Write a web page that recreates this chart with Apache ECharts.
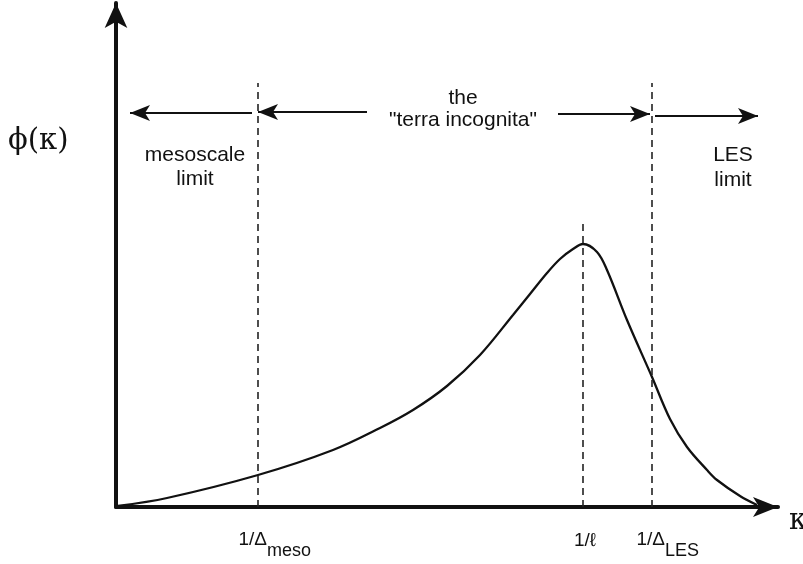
<!DOCTYPE html>
<html>
<head>
<meta charset="utf-8">
<script src="https://cdn.jsdelivr.net/npm/echarts@6/dist/echarts.min.js"></script>
<style>
  html, body { margin: 0; padding: 0; background: #fff; }
  #chart { width: 803px; height: 564px; }
</style>
</head>
<body>
<div id="chart"></div>
<script>
// spectrum curve phi(kappa), arbitrary units (x: 0..662, y: 0..504)
var curveX = [2, 51, 142, 217, 264, 297, 331, 364, 397, 414, 431, 444, 457, 467, 481, 491, 511, 536, 554, 571, 591, 601, 624, 641];
var curveY = [1, 9, 32, 57, 79, 97, 121, 152, 192, 213, 234, 248, 258, 263, 255, 237, 187, 130, 88, 60, 37, 27, 11, 2];

// vertical dashed markers: 1/Δmeso, 1/ℓ, 1/ΔLES
var markerX = [142, 467, 536];
var markerTop = [424, 284, 424];

// horizontal arrows at the top: [from, to (tip), y]
var arrowFrom = [136, 251, 442, 539];
var arrowTo = [14, 142, 534, 642];
var arrowY = [394, 395, 393, 391];

var curveData = curveX.map(function (x, i) { return [x, curveY[i]]; });

var markLines = [];
markerX.forEach(function (x, i) {
  markLines.push([
    { coord: [x, 0], symbol: 'none', lineStyle: { type: [7, 5], width: 1.6, color: '#222' } },
    { coord: [x, markerTop[i]], symbol: 'none' }
  ]);
});
arrowFrom.forEach(function (x, i) {
  markLines.push([
    { coord: [x, arrowY[i]], symbol: 'none', lineStyle: { type: 'solid', width: 2, color: '#111' } },
    { coord: [arrowTo[i], arrowY[i]], symbol: 'arrow', symbolSize: [12, 20] }
  ]);
});

var chart = echarts.init(document.getElementById('chart'));
var sans = '"Liberation Sans", Arial, sans-serif';
var serif = '"DejaVu Serif", "Liberation Serif", serif';

function txt(text, x, y, size, align, font) {
  return {
    type: 'text',
    x: x,
    y: y,
    style: {
      text: text,
      font: size + 'px ' + (font || sans),
      fill: '#111',
      textAlign: align || 'center',
      textVerticalAlign: 'middle'
    }
  };
}

var option = {
  animation: false,
  backgroundColor: '#fff',
  grid: { left: 116, right: 25, top: 3, bottom: 57 },
  xAxis: {
    type: 'value',
    min: 0,
    max: 662,
    axisLine: {
      lineStyle: { color: '#111', width: 4 },
      symbol: ['none', 'arrow'],
      symbolSize: [15, 25]
    },
    axisTick: { show: false },
    axisLabel: { show: false },
    splitLine: { show: false }
  },
  yAxis: {
    type: 'value',
    min: 0,
    max: 504,
    axisLine: {
      show: true,
      lineStyle: { color: '#111', width: 4 },
      symbol: ['none', 'arrow'],
      symbolSize: [17, 25]
    },
    axisTick: { show: false },
    axisLabel: { show: false },
    splitLine: { show: false }
  },
  series: [
    {
      type: 'line',
      data: curveData,
      smooth: 0.35,
      showSymbol: false,
      lineStyle: { color: '#111', width: 2.3 },
      markLine: {
        silent: true,
        symbol: 'none',
        label: { show: false },
        data: markLines
      }
    }
  ],
  graphic: [
    txt('ϕ(κ)', 8, 141, 29, 'left', serif),
    txt('κ', 789, 521, 29, 'left', serif),
    txt('mesoscale', 195, 155, 21),
    txt('limit', 195, 179, 21),
    txt('the', 463, 98, 21),
    txt('"terra incognita"', 463, 120, 21),
    txt('LES', 733, 155, 21),
    txt('limit', 733, 180, 21),
    txt('1/Δ', 267, 540, 19, 'right'),
    txt('meso', 267, 551, 18, 'left'),
    txt('1/ℓ', 585, 541, 19),
    txt('1/Δ', 665, 540, 19, 'right'),
    txt('LES', 665, 551, 18, 'left')
  ]
};

chart.setOption(option);
</script>
</body>
</html>
